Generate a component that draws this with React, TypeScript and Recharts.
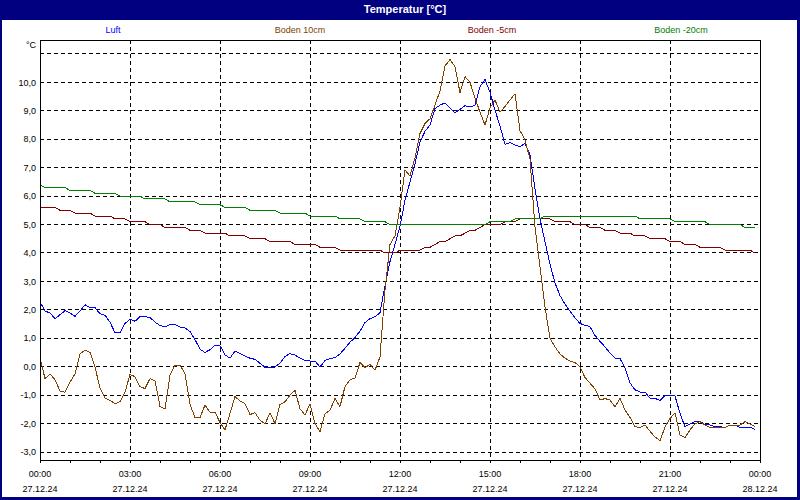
import { LineChart, Line, XAxis, YAxis, CartesianGrid } from "recharts";

const FONT = '"Liberation Sans", Arial, sans-serif';

// 10-minute samples, minutes after 27.12.24 00:00
const sampleMinutes = [
  0, 10, 20, 30, 40, 50, 60, 70, 80, 90,
  100, 110, 120, 130, 140, 150, 160, 170, 180, 190,
  200, 210, 220, 230, 240, 250, 260, 270, 280, 290,
  300, 310, 320, 330, 340, 350, 360, 370, 380, 390,
  400, 410, 420, 430, 440, 450, 460, 470, 480, 490,
  500, 510, 520, 530, 540, 550, 560, 570, 580, 590,
  600, 610, 620, 630, 640, 650, 660, 670, 680, 690,
  700, 710, 720, 730, 740, 750, 760, 770, 780, 790,
  800, 810, 820, 830, 840, 850, 860, 870, 880, 890,
  900, 910, 920, 930, 940, 950, 960, 970, 980, 990,
  1000, 1010, 1020, 1030, 1040, 1050, 1060, 1070, 1080, 1090,
  1100, 1110, 1120, 1130, 1140, 1150, 1160, 1170, 1180, 1190,
  1200, 1210, 1220, 1230, 1240, 1250, 1260, 1270, 1280, 1290,
  1300, 1310, 1320, 1330, 1340, 1350, 1360, 1370, 1380, 1390,
  1400, 1410, 1420, 1430,
];

// Luft
const airTemp = [
  2.28, 1.96, 1.89, 1.69, 1.83, 1.97, 1.89, 1.77, 1.96, 2.18,
  2.08, 2.08, 1.86, 1.81, 1.57, 1.19, 1.19, 1.52, 1.67, 1.6,
  1.76, 1.76, 1.73, 1.57, 1.45, 1.4, 1.49, 1.48, 1.4, 1.36,
  1.24, 0.95, 0.62, 0.5, 0.6, 0.76, 0.74, 0.42, 0.3, 0.55,
  0.46, 0.38, 0.3, 0.26, 0.12, -0.02, -0.03, -0.01, 0.13, 0.36,
  0.46, 0.41, 0.3, 0.22, 0.2, 0.2, -0.01, 0.22, 0.29, 0.32,
  0.45, 0.65, 0.86, 1.03, 1.25, 1.55, 1.69, 1.76, 1.9, 2.85,
  3.7, 4.3, 4.95, 5.85, 6.5, 7.14, 7.9, 8.28, 8.5, 9.08,
  9.2, 9.28, 9.1, 8.93, 9.05, 9.18, 9.13, 9.2, 9.85, 10.1,
  9.65, 9.02, 8.47, 7.82, 7.88, 7.8, 7.73, 7.86, 7.45, 6.25,
  5.2, 4.4, 3.6, 2.95, 2.5, 2.2, 1.95, 1.72, 1.52, 1.46,
  1.41, 1.1, 0.89, 0.7, 0.48, 0.3, 0.29, -0.05, -0.57, -0.81,
  -0.89, -0.89, -1.11, -1.11, -1.19, -1.01, -1.01, -1.03, -1.64, -2.11,
  -2.01, -1.92, -1.93, -2.03, -2.05, -2.11, -2.11, -2.13, -2.05, -2.05,
  -2.13, -2.13, -2.13, -2.2,
];

// Boden 10cm
const soil10Temp = [
  0.32, -0.42, -0.25, -0.46, -0.85, -0.9, -0.55, -0.25, 0.45, 0.58,
  0.5, 0.0, -0.76, -1.1, -1.18, -1.3, -1.23, -0.9, -0.27, -0.35,
  -0.7, -0.77, -0.42, -0.49, -1.4, -1.49, -0.3, 0.06, 0.06, -0.24,
  -1.32, -1.79, -1.79, -1.35, -1.6, -1.6, -1.96, -2.22, -1.64, -1.05,
  -1.2, -1.3, -1.68, -1.62, -1.88, -2.01, -1.62, -2.0, -1.33, -1.23,
  -1.0, -0.83, -1.48, -1.7, -1.3, -2.0, -2.28, -1.65, -1.53, -1.12,
  -1.4, -0.7, -0.46, -0.4, 0.15, -0.03, 0.08, -0.12, 0.35, 2.7,
  4.3, 4.6, 5.6, 6.92, 6.71, 7.35, 8.2, 8.55, 8.72, 9.2,
  9.7, 10.58, 10.8, 10.55, 9.64, 10.2, 10.0, 9.45, 8.95, 8.5,
  9.1, 9.38, 8.95, 9.15, 9.38, 9.6, 8.3, 7.98, 7.3, 4.9,
  3.5, 2.1, 1.0, 0.7, 0.45, 0.3, 0.2, 0.15, 0.0, -0.38,
  -0.58, -0.78, -1.17, -1.12, -1.17, -1.41, -1.11, -1.52, -1.78, -2.11,
  -2.13, -2.05, -2.27, -2.47, -2.6, -2.12, -1.82, -1.62, -2.4, -2.49,
  -2.22, -2.01, -1.93, -2.05, -2.13, -2.13, -2.13, -2.13, -2.05, -2.05,
  -2.05, -1.93, -2.01, -2.11,
];

// Boden -5cm (start/end of each 0.1 step)
const soil5Minutes = [
  0, 30, 40, 60, 70, 100, 110, 140, 150, 170,
  180, 210, 220, 240, 250, 290, 300, 320, 330, 370,
  380, 410, 420, 450, 460, 500, 510, 550, 560, 590,
  600, 680, 690, 710, 720, 760, 770, 780, 790, 800,
  810, 820, 830, 840, 850, 860, 870, 880, 890, 920,
  930, 950, 960, 1020, 1030, 1060, 1070, 1090, 1100, 1120,
  1130, 1150, 1160, 1180, 1190, 1210, 1220, 1250, 1260, 1280,
  1290, 1310, 1320, 1360, 1370, 1420, 1430,
];
const soil5Temp = [
  5.6, 5.6, 5.5, 5.5, 5.4, 5.4, 5.3, 5.3, 5.2, 5.2,
  5.1, 5.1, 5.0, 5.0, 4.9, 4.9, 4.8, 4.8, 4.7, 4.7,
  4.6, 4.6, 4.5, 4.5, 4.4, 4.4, 4.3, 4.3, 4.2, 4.2,
  4.1, 4.1, 4.0, 4.0, 4.1, 4.1, 4.2, 4.2, 4.3, 4.4,
  4.4, 4.5, 4.6, 4.6, 4.7, 4.8, 4.8, 4.9, 5.0, 5.0,
  5.1, 5.1, 5.2, 5.2, 5.1, 5.1, 5.0, 5.0, 4.9, 4.9,
  4.8, 4.8, 4.7, 4.7, 4.6, 4.6, 4.5, 4.5, 4.4, 4.4,
  4.3, 4.3, 4.2, 4.2, 4.1, 4.1, 4.0,
];

// Boden -20cm
const soil20Minutes = [
  0, 10, 50, 60, 100, 110, 150, 160, 200, 210,
  250, 260, 310, 320, 360, 370, 410, 420, 470, 480,
  530, 540, 590, 600, 640, 650, 690, 700, 890, 900,
  940, 950, 1000, 1010, 1190, 1200, 1260, 1270, 1330, 1340,
  1400, 1410, 1430,
];
const soil20Temp = [
  6.4, 6.3, 6.3, 6.2, 6.2, 6.1, 6.1, 6.0, 6.0, 5.9,
  5.9, 5.8, 5.8, 5.7, 5.7, 5.6, 5.6, 5.5, 5.5, 5.4,
  5.4, 5.3, 5.3, 5.2, 5.2, 5.1, 5.1, 5.0, 5.0, 5.1,
  5.1, 5.2, 5.2, 5.3, 5.3, 5.2, 5.2, 5.1, 5.1, 5.0,
  5.0, 4.9, 4.9,
];

const seriesNames = ["Luft", "Boden 10cm", "Boden -5cm", "Boden -20cm"];
const seriesColors = ["#0000FF", "#804000", "#800000", "#008000"];

const hourTicks = [
  0, 60, 120, 180, 240, 300, 360, 420, 480, 540, 600, 660, 720,
  780, 840, 900, 960, 1020, 1080, 1140, 1200, 1260, 1320, 1380, 1440,
];
const labelMinutes = [0, 180, 360, 540, 720, 900, 1080, 1260, 1440];
const timeLabels = ["00:00", "03:00", "06:00", "09:00", "12:00", "15:00", "18:00", "21:00", "00:00"];
const dateLabels = ["27.12.24", "27.12.24", "27.12.24", "27.12.24", "27.12.24", "27.12.24", "27.12.24", "27.12.24", "28.12.24"];
const gridMinutes = [180, 360, 540, 720, 900, 1080, 1260];
const yTicks = [-3, -2, -1, 0, 1, 2, 3, 4, 5, 6, 7, 8, 9, 10, 11];

const toPoints = (ts: number[], vs: number[]) => ts.map((t, i) => ({ t, v: vs[i] }));
const seriesData = [
  toPoints(sampleMinutes, airTemp),
  toPoints(sampleMinutes, soil10Temp),
  toPoints(soil5Minutes, soil5Temp),
  toPoints(soil20Minutes, soil20Temp),
];

const legendCenters = [113, 300, 492, 681];

function TimeTick({ x, y, payload }: any) {
  const i = labelMinutes.indexOf(payload.value);
  if (i < 0) return <g />;
  return (
    <g fontFamily={FONT} fontSize={9} fill="#000">
      <text x={x} y={y + 12} textAnchor="middle">{timeLabels[i]}</text>
      <text x={x} y={y + 27} textAnchor="middle">{dateLabels[i]}</text>
    </g>
  );
}

export default function App() {
  return (
    <div
      style={{
        position: "absolute",
        left: 0,
        top: 0,
        width: 800,
        height: 500,
        background: "#fff",
        fontFamily: FONT,
        overflow: "hidden",
        shapeRendering: "crispEdges",
      }}
    >
      <LineChart width={800} height={500} margin={{ top: 40, right: 40, bottom: 0, left: 4 }}>
        {seriesData.map((d, i) => (
          <Line
            key={seriesNames[i]}
            data={d}
            dataKey="v"
            type="linear"
            stroke={seriesColors[i]}
            strokeWidth={1}
            dot={false}
            isAnimationActive={false}
          />
        ))}
        <CartesianGrid
          stroke="#000"
          strokeDasharray="4 3"
          verticalValues={gridMinutes}
          horizontalValues={yTicks}
        />
        <XAxis
          dataKey="t"
          type="number"
          domain={[0, 1440]}
          ticks={hourTicks}
          interval={0}
          allowDataOverflow
          height={40}
          tickSize={3}
          tickMargin={2}
          axisLine={false}
          tickLine={{ stroke: "#000" }}
          tick={<TimeTick />}
        />
        <YAxis
          type="number"
          domain={[-3.28, 11.49]}
          ticks={yTicks}
          interval={0}
          allowDataOverflow
          width={36}
          axisLine={false}
          tickLine={false}
          tickSize={0}
          tickMargin={4}
          tick={{ fill: "#000", fontSize: 9, fontFamily: FONT }}
          tickFormatter={(v: number) => (v === 11 ? "" : v.toFixed(1).replace(".", ","))}
        />
      </LineChart>

      {/* plot frame */}
      <div
        style={{
          position: "absolute",
          left: 40,
          top: 40,
          width: 721,
          height: 421,
          boxSizing: "border-box",
          border: "1px solid #000",
          pointerEvents: "none",
        }}
      />
      <div style={{ position: "absolute", left: 26, top: 39, fontSize: 9, lineHeight: "12px", color: "#000" }}>°C</div>

      {seriesNames.map((n, i) => (
        <div
          key={n}
          style={{
            position: "absolute",
            left: legendCenters[i],
            top: 24,
            transform: "translateX(-50%)",
            fontSize: 9,
            lineHeight: "12px",
            color: seriesColors[i],
            whiteSpace: "nowrap",
          }}
        >
          {n}
        </div>
      ))}

      {/* window title + frame */}
      <div
        style={{
          position: "absolute",
          left: 0,
          top: 0,
          width: 800,
          height: 20,
          background: "#000080",
          color: "#fff",
          fontWeight: "bold",
          fontSize: 11,
          lineHeight: "18px",
          textAlign: "center",
          paddingLeft: 10,
          boxSizing: "border-box",
        }}
      >
        Temperatur [°C]
      </div>
      <div
        style={{
          position: "absolute",
          left: 0,
          top: 20,
          width: 800,
          height: 480,
          boxSizing: "border-box",
          borderLeft: "2px solid #000080",
          borderRight: "3px solid #000080",
          borderBottom: "3px solid #000080",
          pointerEvents: "none",
        }}
      />
    </div>
  );
}
